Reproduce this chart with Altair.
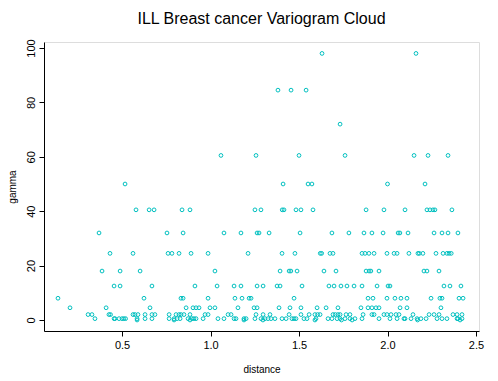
import altair as alt
import pandas as pd

# gamma levels (semivariance) and the distances of the pairs at each level
lvl_98 = [1.630, 2.161]
lvl_84_5 = [1.381, 1.455, 1.540]
lvl_72 = [1.732]
lvl_60_5 = [1.059, 1.257, 1.500, 1.760, 2.150, 2.229, 2.342]
lvl_50 = [0.517, 1.410, 1.551, 1.573, 2.000, 2.212]
lvl_40_5 = [0.579, 0.653, 0.681, 0.839, 0.884, 1.251, 1.285, 1.405, 1.415, 1.483,
            1.511, 1.579, 1.879, 1.980, 2.099, 2.223, 2.240, 2.257, 2.268, 2.364]
lvl_32 = [0.370, 0.754, 0.845, 1.076, 1.172, 1.263, 1.274, 1.331, 1.506, 1.686,
          1.782, 1.867, 1.912, 1.975, 2.060, 2.070, 2.116, 2.263, 2.308, 2.342, 2.398]
lvl_24_5 = [0.432, 0.562, 0.760, 0.782, 0.822, 0.890, 0.986, 1.212, 1.404, 1.477,
            1.620, 1.628, 1.675, 1.692, 1.856, 1.873, 1.895, 1.924, 1.997, 2.037,
            2.054, 2.121, 2.172, 2.180, 2.200, 2.274, 2.314, 2.336, 2.348, 2.360]
lvl_18 = [0.387, 0.489, 0.602, 1.025, 1.393, 1.444, 1.454, 1.489, 1.641, 1.709,
          1.879, 1.896, 1.906, 1.952, 2.206, 2.223, 2.291]
lvl_12_5 = [0.455, 0.489, 0.669, 0.912, 1.037, 1.133, 1.172, 1.263, 1.297, 1.376,
            1.393, 1.517, 1.669, 1.698, 1.737, 1.771, 1.811, 1.856, 1.941, 2.003,
            2.014, 2.319, 2.353, 2.415]
lvl_8 = [0.138, 0.624, 0.833, 0.845, 0.986, 1.138, 1.178, 1.218, 1.229, 1.472,
         1.890, 1.918, 1.997, 2.042, 2.076, 2.110, 2.246, 2.296, 2.308, 2.404, 2.427]
lvl_4_5 = [0.206, 0.410, 0.658, 0.862, 0.901, 0.918, 0.935, 0.997, 1.025, 1.155,
           1.246, 1.263, 1.387, 1.449, 1.511, 1.602, 1.653, 1.720, 1.850, 1.890,
           1.912, 1.935, 1.952, 2.071, 2.110, 2.302]
lvl_2 = [0.308, 0.330, 0.426, 0.435, 0.562, 0.573, 0.590, 0.630, 0.669, 0.686,
         0.766, 0.805, 0.822, 0.833, 0.850, 0.884, 0.969, 0.986, 1.099, 1.116,
         1.257, 1.297, 1.336, 1.444, 1.511, 1.557, 1.590, 1.605, 1.619, 1.692,
         1.705, 1.720, 1.732, 1.766, 1.788, 1.862, 1.912, 1.924, 1.980, 1.997,
         2.020, 2.048, 2.065, 2.144, 2.235, 2.263, 2.291, 2.370, 2.393, 2.421]
lvl_0_5 = [0.347, 0.455, 0.460, 0.483, 0.500, 0.510, 0.520, 0.585, 0.630, 0.669,
           0.766, 0.794, 0.811, 0.828, 0.873, 0.895, 0.906, 0.918, 0.958, 1.042,
           1.076, 1.133, 1.144, 1.189, 1.201, 1.251, 1.285, 1.308, 1.325, 1.342,
           1.364, 1.404, 1.427, 1.460, 1.472, 1.483, 1.528, 1.545, 1.596, 1.664,
           1.686, 1.715, 1.732, 1.760, 1.788, 1.816, 1.856, 1.952, 2.014, 2.054,
           2.093, 2.099, 2.133, 2.167, 2.189, 2.218, 2.280, 2.308, 2.336, 2.393,
           2.398, 2.421]
lvl_0 = [0.585, 0.794, 0.884, 1.189, 1.296, 1.590, 1.740, 1.800, 2.170, 2.410]

levels = [
    (98.0, lvl_98), (84.5, lvl_84_5), (72.0, lvl_72), (60.5, lvl_60_5),
    (50.0, lvl_50), (40.5, lvl_40_5), (32.0, lvl_32), (24.5, lvl_24_5),
    (18.0, lvl_18), (12.5, lvl_12_5), (8.0, lvl_8), (4.5, lvl_4_5),
    (2.0, lvl_2), (0.5, lvl_0_5), (0.0, lvl_0),
]
rows = [{"distance": d, "gamma": g} for g, ds in levels for d in ds]
df = pd.DataFrame(rows)

x_ticks = [0.5, 1.0, 1.5, 2.0, 2.5]
y_ticks = [0, 20, 40, 60, 80, 100]

FONT = "Liberation Sans"

chart = alt.Chart(df).mark_point(
    shape="circle", filled=False, size=14, strokeWidth=1, color="#00C0C0", opacity=1
).encode(
    x=alt.X("distance:Q",
            scale=alt.Scale(domain=[0.059, 2.517], nice=False, zero=False),
            axis=alt.Axis(values=x_ticks, format=".1f", title="distance",
                          grid=False, tickSize=5, labelPadding=3, titlePadding=14,
                          labelFontSize=11, titleFontSize=10, titleFontWeight="normal",
                          labelColor="black", titleColor="black", domainColor="black",
                          tickColor="black", labelFont=FONT, titleFont=FONT)),
    y=alt.Y("gamma:Q",
            scale=alt.Scale(domain=[-4.04, 102.2], nice=False, zero=False),
            axis=alt.Axis(values=y_ticks, title="gamma", grid=False, tickSize=5,
                          labelAngle=270, labelAlign="center", labelBaseline="bottom",
                          labelPadding=3, titlePadding=8,
                          labelFontSize=11, titleFontSize=10, titleFontWeight="normal",
                          labelColor="black", titleColor="black", domainColor="black",
                          tickColor="black", labelFont=FONT, titleFont=FONT)),
).properties(
    width=435, height=289,
    title=alt.TitleParams("ILL Breast cancer Variogram Cloud", fontSize=16,
                          fontWeight="normal", font=FONT, color="black",
                          anchor="middle", offset=12),
    autosize="none",
    padding={"left": 36, "top": 34, "right": 10, "bottom": 45},
).configure_view(stroke="black", strokeWidth=1).configure(background="white")

chart.save("out.html", embed_options={"renderer": "svg", "actions": False})
